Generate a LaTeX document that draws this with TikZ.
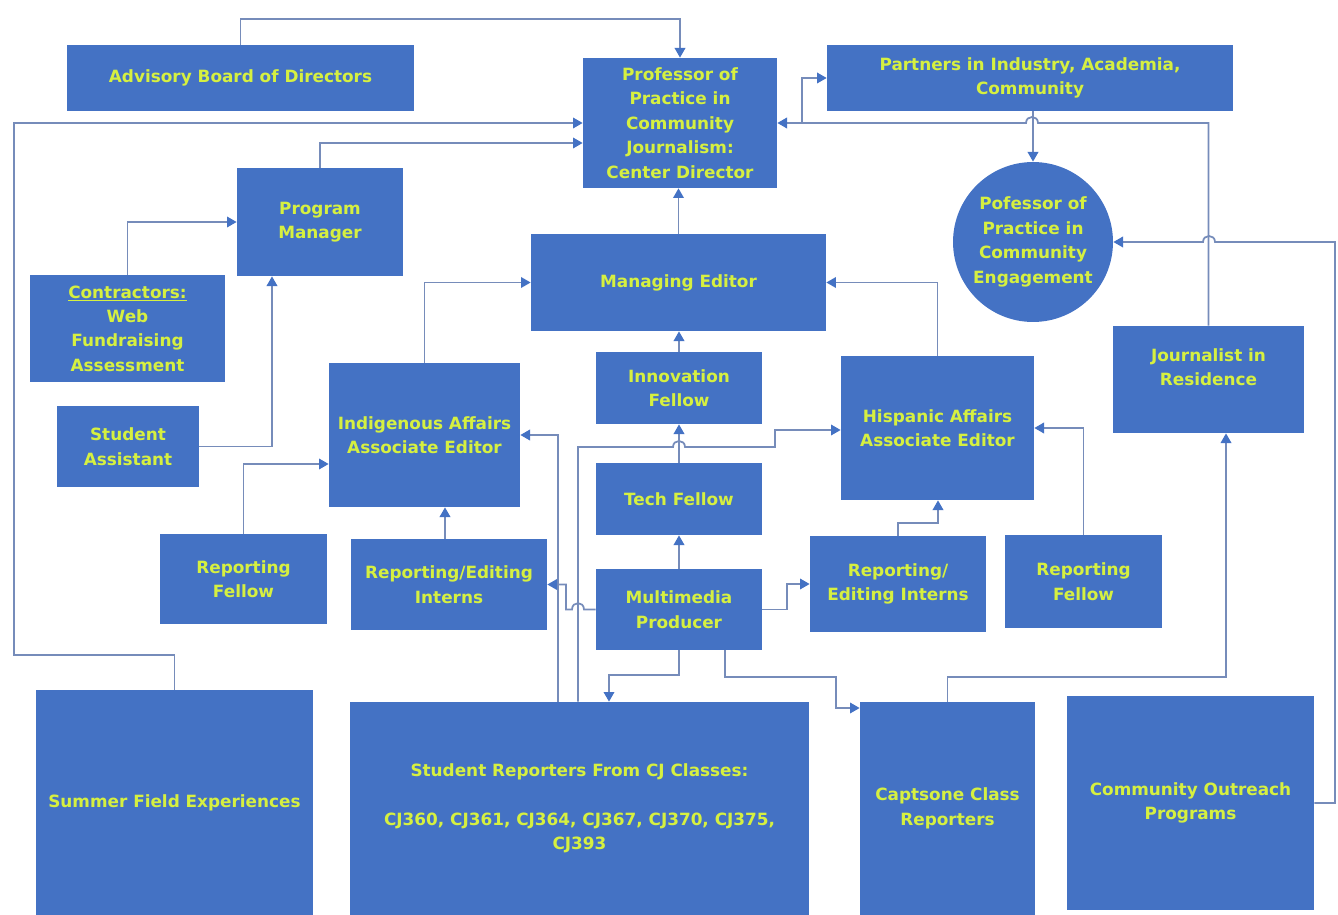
\documentclass[tikz,border=0pt]{standalone}
\usepackage{fontspec}
\setmainfont{DejaVu Sans}
\usetikzlibrary{arrows.meta}
\definecolor{boxblue}{RGB}{68,114,196}
\definecolor{boxtext}{RGB}{214,240,64}
\definecolor{wireblue}{RGB}{118,140,186}
\begin{document}
\begin{tikzpicture}[
    x=0.02cm, y=-0.02cm,
    unit/.style={rectangle, fill=boxblue, text=boxtext, inner sep=2pt, align=center,
        font=\bfseries\fontsize{9.6}{13.9}\selectfont},
    arrow/.style={-{Triangle[width=6pt,length=5.5pt,color=boxblue]}, draw=wireblue, line width=1pt}
]
    \useasboundingbox (0,0) rectangle (1338,915);

    % top row
    \node[unit, minimum width=6.94cm, minimum height=1.32cm] (advisory) at (240.5,78) {Advisory Board of Directors};
    \node[unit, minimum width=3.88cm, minimum height=2.6cm] (director) at (680,123) {Professor of\\Practice in\\Community\\Journalism:\\Center Director};
    \node[unit, minimum width=8.12cm, minimum height=1.32cm] (partners) at (1030,78) {Partners in Industry, Academia,\\Community};
    \node[unit, circle, minimum size=3.2cm] (engagement) at (1033,242) {Pofessor of\\Practice in\\Community\\Engagement};

    % staff
    \node[unit, minimum width=3.32cm, minimum height=2.16cm] (progmgr) at (320,222) {Program\\Manager};
    \node[unit, minimum width=3.9cm, minimum height=2.14cm] (contractors) at (127.5,328.5) {\underline{Contractors:}\\Web\\Fundraising\\Assessment};
    \node[unit, minimum width=2.84cm, minimum height=1.62cm] (studasst) at (128,446.5) {Student\\Assistant};
    \node[unit, minimum width=5.9cm, minimum height=1.94cm] (managing) at (678.5,282.5) {Managing Editor};
    \node[unit, minimum width=3.82cm, minimum height=2.14cm] (journalist) at (1208.5,379.5) {Journalist in\\Residence\\\mbox{}};

    % editors and fellows
    \node[unit, minimum width=3.32cm, minimum height=1.44cm] (innovation) at (679,388) {Innovation\\Fellow};
    \node[unit, minimum width=3.32cm, minimum height=1.44cm] (tech) at (679,499) {Tech Fellow};
    \node[unit, minimum width=3.32cm, minimum height=1.62cm] (multimedia) at (679,609.5) {Multimedia\\Producer};
    \node[unit, minimum width=3.82cm, minimum height=2.88cm] (indigenous) at (424.5,435) {Indigenous Affairs\\Associate Editor};
    \node[unit, minimum width=3.86cm, minimum height=2.88cm] (hispanic) at (937.5,428) {Hispanic Affairs\\Associate Editor};
    \node[unit, minimum width=3.34cm, minimum height=1.8cm] (repfellowL) at (243.5,579) {Reporting\\Fellow};
    \node[unit, minimum width=3.92cm, minimum height=1.82cm] (internsL) at (449,584.5) {Reporting/Editing\\Interns};
    \node[unit, minimum width=3.52cm, minimum height=1.92cm] (internsR) at (898,584) {Reporting/\\Editing Interns};
    \node[unit, minimum width=3.14cm, minimum height=1.86cm] (repfellowR) at (1083.5,581.5) {Reporting\\Fellow};

    % bottom row
    \node[unit, minimum width=5.54cm, minimum height=4.5cm] (summer) at (174.5,802.5) {Summer Field Experiences};
    \node[unit, minimum width=9.18cm, minimum height=4.26cm] (students) at (579.5,808.5) {Student Reporters From CJ Classes:\\[13.9pt]CJ360, CJ361, CJ364, CJ367, CJ370, CJ375,\\CJ393};
    \node[unit, minimum width=3.5cm, minimum height=4.26cm] (capstone) at (947.5,808.5) {Captsone Class\\Reporters};
    \node[unit, minimum width=4.94cm, minimum height=4.28cm] (outreach) at (1190.5,803) {Community Outreach\\Programs};

    \coordinate (jct) at (802,123);

    % into the director
    \draw[arrow] (advisory.north) -- (240.5,19) -| (director.north);
    \draw[arrow] (summer.north) -- (174.5,655) -- (14,655) |- (director.west);
    \draw[arrow] (progmgr.north) |- (director.west |- 0,143);
    \draw[arrow] (managing.north) -- (managing.north |- director.south);
    \draw[arrow] (journalist.north) -- (1208.5,123) -- (1038,123)
        .. controls (1038,115) and (1026,115) .. (1026,123) -- (director.east);
    \draw[arrow] (jct) |- (partners.west);
    \draw[arrow] (partners.south -| engagement.north) -- (engagement.north);
    \draw[arrow] (outreach.east) -- (1335,803) -- (1335,242) -- (1215,242)
        .. controls (1215,234) and (1203,234) .. (1203,242) -- (engagement.east);

    % program manager
    \draw[arrow] (contractors.north) |- (progmgr.west);
    \draw[arrow] (studasst.east) -| (progmgr.south -| 272,0);

    % managing editor
    \draw[arrow] (indigenous.north) |- (managing.west);
    \draw[arrow] (hispanic.north) |- (managing.east);
    \draw[arrow] (innovation.north) -- (innovation.north |- managing.south);
    \draw[arrow] (tech.north) -- (tech.north |- innovation.south);
    \draw[arrow] (multimedia.north) -- (multimedia.north |- tech.south);

    % associate editors
    \draw[arrow] (repfellowL.north) |- (indigenous.west |- 0,464);
    \draw[arrow] (internsL.north -| 445,0) -- (indigenous.south -| 445,0);
    \draw[arrow] (internsR.north) -- (898,523) -| (hispanic.south -| 938,0);
    \draw[arrow] (repfellowR.north) |- (hispanic.east);
    \draw[arrow] (students.north -| 558,0) |- (indigenous.east);
    \draw[arrow] (students.north -| 578,0) -- (578,447) -- (673,447)
        .. controls (673,439) and (685,439) .. (685,447) -- (775,447) -- (775,430) -- (hispanic.west |- 0,430);

    % multimedia producer
    \draw[arrow] (multimedia.west) -- (584,609.5)
        .. controls (584,601) and (572,601) .. (572,609.5) -- (566,609.5) |- (internsL.east);
    \draw[arrow] (multimedia.east) -- (787,609.5) |- (internsR.west);
    \draw[arrow] (multimedia.south) -- (679,675) -| (students.north -| 609,0);
    \draw[arrow] (multimedia.south -| 725,0) |- (836,677) |- (capstone.west |- 0,708);
    \draw[arrow] (capstone.north) -- (947.5,677) -| (journalist.south -| 1226,0);
\end{tikzpicture}
\end{document}
